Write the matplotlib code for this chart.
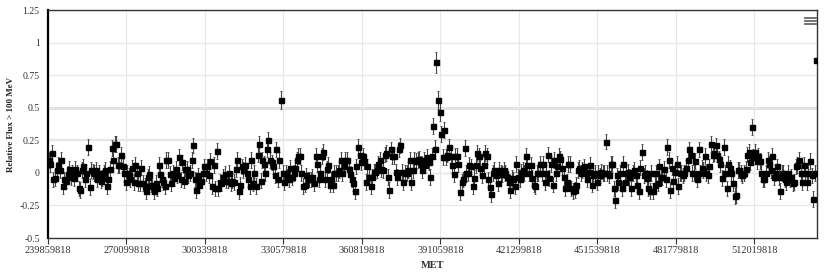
"""Weekly LAT light curve: relative flux > 100 MeV against MET."""
import numpy as np
import matplotlib.pyplot as plt
from matplotlib.lines import Line2D

# Weekly bins starting at MET 239859818.
met_start = 239859818
bin_width = 604800

flux = [
    # 239859818 - 270099818
    0.10, 0.07, 0.15, -0.05, -0.04, 0.02, 0.06, 0.02, 0.10, -0.10,
    -0.05, -0.06, -0.01, 0.03, -0.03, 0.00, -0.04, 0.03, 0.00, -0.12,
    -0.13, 0.02, 0.05, -0.05, 0.00, 0.20, -0.11, 0.02, 0.01, 0.00,
    0.02, -0.05, 0.00, -0.06, -0.04, 0.00, 0.02, -0.10, -0.05, 0.03,
    0.19, 0.10, 0.22, 0.22, 0.06, 0.06, 0.14, 0.05, 0.00, -0.07,
    # 270099818 - 300339818
    0.00, -0.02, -0.05, 0.04, -0.07, 0.06, 0.00, -0.08, -0.08, 0.04,
    -0.08, -0.10, -0.14, -0.03, -0.01, -0.09, -0.10, -0.14, -0.08, -0.12,
    0.06, -0.01, -0.05, -0.07, -0.10, 0.10, 0.10, -0.01, -0.08, 0.00,
    -0.04, 0.03, -0.02, 0.12, -0.05, 0.08, -0.06, 0.03, 0.03, -0.02,
    0.00, 0.10, 0.21, -0.05, -0.13, -0.02, -0.09, -0.06, 0.00, 0.05,
    # 300339818 - 330579818
    0.00, 0.05, -0.02, 0.09, -0.10, 0.06, -0.12, 0.17, -0.12, -0.07,
    -0.08, -0.03, -0.01, -0.06, -0.06, 0.00, -0.08, -0.06, -0.07, 0.03,
    0.10, -0.14, -0.09, 0.05, 0.02, 0.06, 0.00, -0.05, -0.10, 0.10,
    -0.08, 0.00, -0.10, 0.14, 0.22, -0.06, 0.10, 0.07, 0.00, 0.18,
    0.25, 0.10, 0.08, 0.05, -0.02, 0.18, -0.05, 0.10, 0.56, 0.00,
    # 330579818 - 360819818
    -0.07, 0.00, -0.03, -0.05, 0.04, -0.03, 0.00, 0.04, 0.10, 0.13,
    0.13, 0.00, -0.10, -0.09, -0.02, -0.05, -0.05, -0.05, -0.03, -0.08,
    0.13, 0.07, -0.05, 0.00, 0.13, 0.16, -0.05, 0.03, 0.06, -0.09,
    -0.05, -0.09, 0.00, 0.00, 0.00, 0.02, 0.10, 0.00, 0.05, 0.10,
    0.10, 0.03, -0.01, -0.05, -0.08, -0.14, 0.05, 0.20, 0.14, 0.08,
    # 360819818 - 391059818
    0.13, 0.09, -0.07, 0.05, -0.03, -0.10, -0.03, 0.01, 0.01, 0.02,
    0.07, 0.10, 0.03, 0.02, 0.14, 0.15, -0.03, -0.13, 0.18, 0.13,
    0.13, 0.01, -0.03, 0.18, 0.21, 0.01, -0.07, 0.00, 0.00, 0.02,
    0.10, -0.07, 0.02, 0.10, 0.09, 0.10, 0.11, 0.07, 0.02, 0.10,
    0.06, 0.12, 0.08, -0.03, 0.13, 0.36, 0.18, 0.85, 0.56, 0.47,
    # 391059818 - 421299818
    0.30, 0.12, 0.33, 0.12, 0.14, 0.20, 0.13, 0.06, -0.01, 0.13,
    0.13, 0.07, -0.15, -0.07, -0.05, 0.19, 0.00, 0.00, 0.06, 0.05,
    -0.10, -0.04, 0.06, 0.15, 0.13, 0.04, -0.02, 0.06, 0.15, 0.13,
    -0.05, -0.11, -0.16, 0.00, 0.02, -0.02, -0.08, 0.02, 0.00, -0.01,
    0.02, 0.00, -0.03, -0.07, -0.13, -0.04, -0.05, -0.10, 0.07, -0.03,
    # 421299818 - 451539818
    -0.05, 0.01, 0.02, 0.00, 0.13, 0.06, 0.00, 0.06, -0.04, -0.09,
    -0.10, 0.00, 0.00, 0.07, 0.00, 0.07, -0.07, 0.00, 0.14, -0.04,
    0.07, -0.09, 0.10, 0.00, 0.05, 0.13, 0.11, 0.04, -0.03, -0.12,
    -0.07, 0.07, 0.07, -0.12, -0.14, -0.13, -0.09, 0.02, 0.04, 0.00,
    0.02, 0.05, 0.00, -0.05, 0.01, 0.06, -0.09, -0.02, 0.00, -0.07,
    # 451539818 - 481779818
    0.00, -0.02, 0.01, 0.00, 0.00, 0.24, 0.00, -0.02, 0.07, 0.07,
    -0.12, -0.21, -0.02, -0.07, 0.00, -0.12, 0.07, -0.07, 0.00, 0.01,
    -0.03, -0.12, 0.00, 0.02, -0.02, -0.09, -0.14, 0.04, 0.16, -0.02,
    0.00, -0.04, -0.12, -0.14, 0.00, -0.14, -0.09, 0.00, -0.08, 0.05,
    -0.03, -0.03, 0.03, -0.05, 0.20, 0.10, -0.13, 0.04, -0.06, 0.01,
    # 481779818 - 512019818
    0.07, -0.10, 0.00, 0.00, -0.02, 0.00, 0.04, 0.10, 0.18, 0.14,
    0.00, 0.00, 0.09, -0.05, 0.18, 0.00, 0.04, 0.02, 0.13, 0.00,
    -0.02, 0.05, 0.22, 0.14, 0.15, 0.21, 0.14, 0.11, 0.07, -0.04,
    0.20, 0.00, -0.12, 0.07, 0.04, 0.00, -0.08, -0.18, -0.17, 0.02,
    0.02, 0.00, -0.02, 0.00, 0.03, 0.14, 0.16, 0.08, 0.35, 0.12,
    # 512019818 - end
    0.16, 0.09, 0.13, 0.09, 0.00, -0.05, -0.05, 0.00, 0.10, 0.07,
    0.02, 0.13, -0.03, 0.00, 0.05, -0.03, -0.14, 0.00, 0.00, -0.05,
    -0.07, 0.00, -0.05, -0.03, -0.08, -0.07, 0.05, 0.06, 0.10, 0.00,
    -0.07, 0.06, 0.00, -0.07, 0.00, 0.09, -0.02, -0.20, 0.00, 0.87,
]

# Typical 1-sigma error, wider for the few bright weeks.
typical_err = 0.06
large_err = {148: 0.07, 245: 0.06, 246: 0.07, 247: 0.08, 248: 0.07,
             249: 0.07, 250: 0.06, 252: 0.06, 448: 0.06}

x_ticks = [239859818, 270099818, 300339818, 330579818, 360819818,
           391059818, 421299818, 451539818, 481779818, 512019818]
y_ticks = [-0.5, -0.25, 0, 0.25, 0.5, 0.75, 1, 1.25]
y_tick_labels = ["-0.5", "-0.25", "0", "0.25", "0.5", "0.75", "1", "1.25"]

n = len(flux)
met = met_start + bin_width * (np.arange(n) + 0.5)
flux_err = np.full(n, typical_err)
for i, e in large_err.items():
    flux_err[i] = e
flux_err[-1] = 0.0

plt.rcParams["font.family"] = ["Liberation Serif", "DejaVu Serif"]

fig = plt.figure(figsize=(8.27, 2.72), dpi=100)
ax = fig.add_axes([48 / 827, 1 - 238 / 272, 769 / 827, 228 / 272])

ax.errorbar(met, flux, yerr=flux_err, fmt="s", color="black", ms=3.6,
            ecolor="#444444", elinewidth=0.8, capsize=1.0, capthick=0.6,
            zorder=3)

ax.set_xlim(met_start, met_start + bin_width * n)
ax.set_ylim(-0.5, 1.25)
ax.set_xticks(x_ticks)
ax.set_xticklabels([str(t) for t in x_ticks])
ax.set_yticks(y_ticks)
ax.set_yticklabels(y_tick_labels)

ax.grid(True, color="#e6e6e6", lw=0.8, zorder=0)
ax.axhline(0.5, color="#e0e0e0", lw=2.2, zorder=0)
ax.axhline(0.25, color="#e6e6e6", lw=1.6, zorder=0)
ax.axhline(0, color="#999999", lw=0.8, zorder=1)

for side in ["top", "right", "bottom"]:
    ax.spines[side].set_color("#333333")
    ax.spines[side].set_linewidth(1.0)
ax.spines["left"].set_color("black")
ax.spines["left"].set_linewidth(1.6)

ax.tick_params(axis="x", length=4, width=0.8, color="#333333",
               labelsize=7.5, pad=2, labelcolor="#333333")
ax.tick_params(axis="y", length=0, labelsize=7, pad=6,
               labelcolor="#333333")

ax.set_xlabel("MET", fontsize=7.5, fontweight="bold", color="#333333",
              labelpad=4)
ax.set_ylabel("Relative Flux > 100 MeV", fontsize=6.5, fontweight="bold",
              color="#222222")
ax.yaxis.set_label_coords(-0.043, 0.5)

# Export menu icon in the top right corner.
for y in [18, 21, 24]:
    fig.add_artist(Line2D([805 / 827, 816 / 827], [1 - y / 272] * 2,
                          color="#666666", lw=1.3))

fig.savefig("out.png", dpi=100)
